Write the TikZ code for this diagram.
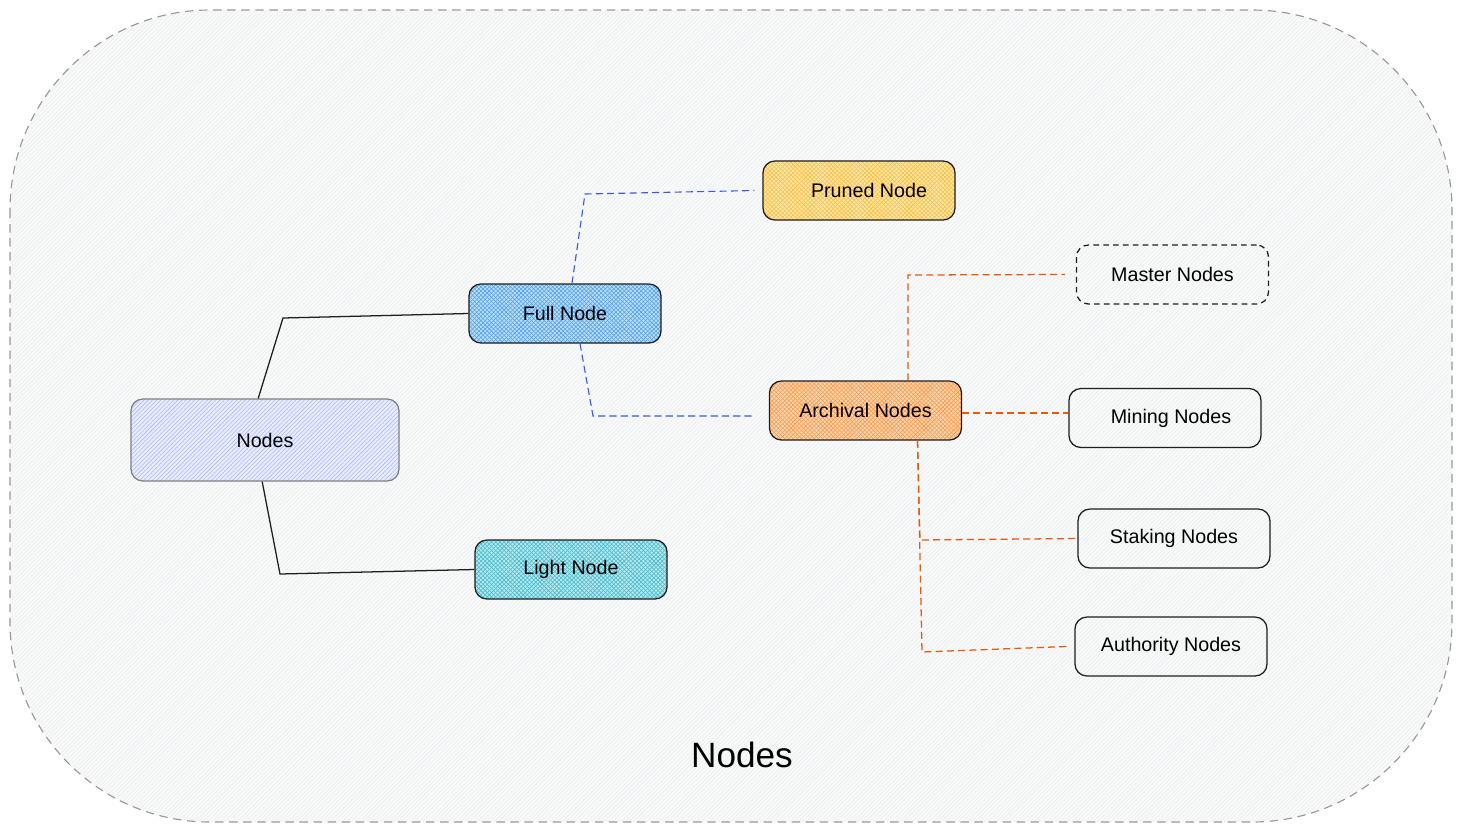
\documentclass[tikz,border=0pt]{standalone}
\usepackage{fontspec}
\setmainfont{Liberation Sans}
\usetikzlibrary{patterns,calc}
\definecolor{inkblack}{HTML}{1E1E1E}
\definecolor{bggray}{HTML}{F8F9FA}
\definecolor{lavender}{HTML}{A5B4F8}
\definecolor{fullblue}{HTML}{228BE6}
\definecolor{lightteal}{HTML}{15AABF}
\definecolor{prunedyellow}{HTML}{FAB005}
\definecolor{archorange}{HTML}{FD7E14}
\definecolor{linkblue}{HTML}{3B5BDB}
\definecolor{linkred}{HTML}{E8590C}
\tikzset{
  box/.style={draw=inkblack, line width=0.9pt, rounded corners=0.3cm,
    minimum width=4.8cm, minimum height=1.475cm,
    font=\fontsize{14}{16}\selectfont},
  xhatch/.style={box, preaction={fill=#1!30},
    preaction={pattern=north east lines, pattern color=#1!80},
    pattern=north west lines, pattern color=#1!80},
  link/.style={draw=inkblack, line width=0.9pt},
  bluelink/.style={draw=linkblue, line width=0.8pt, dash pattern=on 5pt off 3pt},
  redlink/.style={draw=linkred, line width=0.9pt, dash pattern=on 5pt off 3pt}
}
\begin{document}
\begin{tikzpicture}[x=0.025cm,y=-0.025cm]
  \useasboundingbox (0,0) rectangle (1462,831);
  % background frame
  \draw[gray!80, line width=0.8pt, dash pattern=on 6pt off 4pt, rounded corners=5cm,
    preaction={fill=bggray}, pattern=north east lines, pattern color=gray!14]
    (10,10) rectangle (1452,822);

  \node[box, draw=gray, minimum width=6.7cm, minimum height=2.05cm,
    preaction={fill=lavender!25}, pattern=north east lines, pattern color=lavender!90]
    (nodes) at (265,440) {Nodes};
  \node[xhatch=fullblue] (full) at (565,313.5) {Full Node};
  \node[xhatch=lightteal] (light) at (571,569.5) {Light Node};
  \node[xhatch=prunedyellow] (pruned) at (859,190.5) {\hspace{0.5cm}Pruned Node};
  \node[xhatch=archorange] (archival) at (865.5,410.5) {Archival Nodes};
  \node[box, dash pattern=on 4pt off 3pt] (master) at (1172.5,274.5) {Master Nodes};
  \node[box] (mining) at (1165,418) {\hspace{0.3cm}Mining Nodes};
  \node[box] (staking) at (1174,538.5) {Staking Nodes};
  \node[box] (authority) at (1171,646.5) {Authority Nodes};

  \draw[link] ([xshift=-0.17cm]nodes.north) -- (283,318) -- (full.west);
  \draw[link] ([xshift=-0.07cm]nodes.south) -- (280,574) -- (light.west);

  \draw[bluelink] ([xshift=0.175cm]full.north) -- (585,194) -- ([xshift=-0.2cm]pruned.west);
  \draw[bluelink] ([xshift=0.375cm]full.south) -- (593,416) -- ($(archival.west)+(-14,5.5)$);

  \draw[redlink] ([xshift=1.06cm]archival.north) -- (908,275) -- ([xshift=-0.275cm]master.west);
  \draw[redlink] ([yshift=-0.06cm]archival.east) -- ([yshift=-0.06cm]archival.east -| mining.west);
  \draw[redlink] ([xshift=1.3cm]archival.south) -- (920,540) -- (staking.west);
  \draw[redlink] ([xshift=1.3cm]archival.south) -- (922,652) -- ([xshift=-0.2cm]authority.west);

  \node[font=\fontsize{25}{30}\selectfont] (title) at (742,755) {Nodes};
\end{tikzpicture}
\end{document}
